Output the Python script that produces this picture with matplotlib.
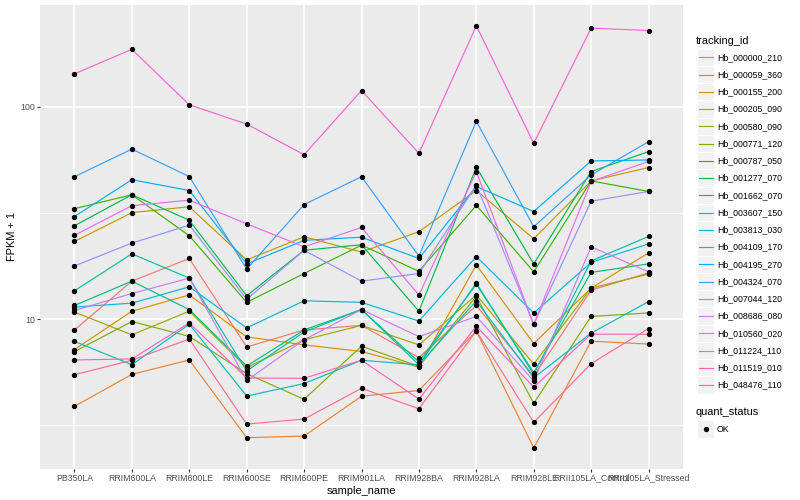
import matplotlib
matplotlib.use("Agg")
import matplotlib.pyplot as plt
from matplotlib.patches import Rectangle
from matplotlib.lines import Line2D
from matplotlib.ticker import FixedLocator, FixedFormatter, NullFormatter

plt.rcParams['font.family'] = ['Liberation Sans', 'DejaVu Sans']

# sample names on the x axis
samples = ['PB350LA', 'RRIM600LA', 'RRIM600LE', 'RRIM600SE', 'RRIM600PE',
           'RRIM901LA', 'RRIM928BA', 'RRIM928LA', 'RRIM928LE',
           'RRII105LA_Control', 'RRII105LA_Stressed']

tracking_ids = ['Hb_000000_210', 'Hb_000059_360', 'Hb_000155_200', 'Hb_000205_090',
                'Hb_000580_090', 'Hb_000771_120', 'Hb_000787_050', 'Hb_001277_070',
                'Hb_001662_070', 'Hb_003607_150', 'Hb_003813_030', 'Hb_004109_170',
                'Hb_004195_270', 'Hb_004324_070', 'Hb_007044_120', 'Hb_008686_080',
                'Hb_010560_020', 'Hb_011224_110', 'Hb_011519_010', 'Hb_048476_110']

# FPKM + 1 per gene, in the order of samples
hb_000000_210 = [8.9, 15.1, 19.3, 7.4, 8.9, 9.35, 6.6, 11.6, 5.4, 13.7, 16.5]
hb_000059_360 = [3.89, 5.5, 6.43, 2.77, 2.82, 4.34, 4.62, 8.8, 2.48, 7.88, 7.64]
hb_000155_200 = [7.2, 10.9, 13.0, 8.26, 7.57, 7.05, 5.95, 18.0, 7.68, 14.0, 20.5]
hb_000205_090 = [23.2, 31.7, 33.8, 19.0, 24.4, 20.7, 25.8, 40.3, 23.9, 44.7, 51.7]
hb_000580_090 = [10.8, 8.44, 10.9, 5.92, 8.0, 9.35, 7.57, 13.0, 6.15, 14.0, 16.3]
hb_000771_120 = [7.04, 9.75, 8.3, 5.54, 4.2, 7.46, 6.0, 12.8, 4.02, 10.3, 10.7]
hb_000787_050 = [33.1, 38.5, 24.7, 12.0, 16.4, 22.3, 16.8, 34.3, 16.7, 44.7, 39.9]
hb_001277_070 = [27.5, 38.5, 29.2, 12.9, 21.1, 22.4, 10.9, 51.8, 18.2, 49.5, 61.4]
hb_001662_070 = [11.6, 15.1, 11.1, 6.02, 8.9, 11.1, 6.3, 14.6, 5.6, 16.6, 18.2]
hb_003607_150 = [13.6, 20.3, 15.6, 5.71, 8.7, 11.1, 6.1, 14.8, 5.5, 18.8, 24.5]
hb_003813_030 = [7.86, 6.11, 9.47, 4.35, 4.98, 6.41, 6.1, 12.2, 5.3, 8.6, 12.1]
hb_004109_170 = [11.4, 11.9, 14.2, 9.1, 12.2, 12.0, 9.8, 19.7, 10.7, 18.5, 22.6]
hb_004195_270 = [30.4, 45.3, 40.3, 18.2, 23.5, 24.3, 19.3, 42.1, 32.1, 55.5, 56.1]
hb_004324_070 = [46.8, 63.1, 46.9, 17.2, 34.6, 46.8, 19.8, 85.3, 27.2, 47.7, 68.4]
hb_007044_120 = [17.8, 22.8, 27.7, 12.4, 21.1, 15.1, 16.4, 42.8, 9.45, 35.9, 39.9]
hb_008686_080 = [11.0, 13.2, 15.6, 5.15, 8.0, 11.1, 8.28, 10.3, 5.12, 21.9, 16.7]
hb_010560_020 = [24.8, 34.2, 36.3, 28.1, 21.9, 27.0, 13.0, 49.5, 9.45, 44.5, 55.2]
hb_011224_110 = [142.6, 186, 102, 82.8, 59.4, 119, 60.3, 240, 67.2, 234, 228]
hb_011519_010 = [6.43, 6.5, 9.6, 5.29, 5.27, 6.41, 4.21, 9.27, 4.79, 8.5, 8.5]
hb_048476_110 = [5.48, 6.41, 8.07, 3.21, 3.39, 4.73, 3.79, 8.8, 3.27, 6.18, 9.04]

series = [hb_000000_210, hb_000059_360, hb_000155_200, hb_000205_090, hb_000580_090,
          hb_000771_120, hb_000787_050, hb_001277_070, hb_001662_070, hb_003607_150,
          hb_003813_030, hb_004109_170, hb_004195_270, hb_004324_070, hb_007044_120,
          hb_008686_080, hb_010560_020, hb_011224_110, hb_011519_010, hb_048476_110]

# ggplot default hue palette for 20 groups
colors = ['#F8766D', '#EA8331', '#D89000', '#C09B00', '#A3A500', '#7CAE00', '#39B600',
          '#00BB4E', '#00BF7D', '#00C1A3', '#00BFC4', '#00BAE0', '#00B0F6', '#35A2FF',
          '#9590FF', '#C77CFF', '#E76BF3', '#FA62DB', '#FF62BC', '#FF6C91']

W, H = 800, 500
fig = plt.figure(figsize=(8, 5), dpi=100)
ax = fig.add_axes([40 / W, 1 - 468.7 / H, (683 - 40) / W, (468.7 - 5) / H])
ax.set_facecolor('#EBEBEB')
for s in ax.spines.values():
    s.set_visible(False)

x = list(range(len(samples)))
for vals, c in zip(series, colors):
    ax.plot(x, vals, color=c, lw=0.85, zorder=3)
for vals in series:
    ax.plot(x, vals, 'o', color='black', ms=2.8, zorder=4)

ax.set_yscale('log')
ax.set_ylim(1.98, 300.6)
ax.set_xlim(-0.6, len(samples) - 0.4)

ax.yaxis.set_major_locator(FixedLocator([10, 100]))
ax.yaxis.set_major_formatter(FixedFormatter(['10', '100']))
ax.yaxis.set_minor_locator(FixedLocator([10 ** 0.5, 10 ** 1.5, 10 ** 2.5]))
ax.yaxis.set_minor_formatter(NullFormatter())
ax.set_xticks(x)
ax.set_xticklabels(samples)

ax.grid(True, which='major', color='white', lw=1.2, zorder=0)
ax.grid(True, which='minor', axis='y', color='white', lw=0.6, zorder=0)
ax.set_axisbelow(True)
ax.tick_params(which='major', length=2.0, width=0.8, color='#333333',
               labelsize=6.3, labelcolor='#4D4D4D', pad=1.6)
ax.tick_params(which='minor', length=0)

ax.set_xlabel('sample_name', fontsize=7.9, labelpad=2.5)
ax.set_ylabel('FPKM + 1', fontsize=7.9, labelpad=2.5)

# legend drawn by hand, ggplot style
def fx(px):
    return px / W

def fy(py):
    return 1 - py / H

fig.text(fx(696), fy(40.7), 'tracking_id', fontsize=7.9, va='center', ha='left')
key_w, key_h = 17.3, 17.3
y0, step = 57.3, 17.25
for i, (name, c) in enumerate(zip(tracking_ids, colors)):
    yc = y0 + i * step
    fig.add_artist(Rectangle((fx(697), fy(yc + key_h / 2)), key_w / W, key_h / H,
                             transform=fig.transFigure, facecolor='#F2F2F2',
                             edgecolor='white', lw=0.7))
    fig.add_artist(Line2D([fx(699), fx(712.5)], [fy(yc), fy(yc)],
                          transform=fig.transFigure, color=c, lw=0.85))
    fig.text(fx(717), fy(yc), name, fontsize=6.3, va='center', ha='left')

fig.text(fx(696), fy(412.3), 'quant_status', fontsize=7.9, va='center', ha='left')
fig.add_artist(Rectangle((fx(697), fy(429 + key_h / 2)), key_w / W, key_h / H,
                         transform=fig.transFigure, facecolor='#F2F2F2',
                         edgecolor='white', lw=0.7))
fig.add_artist(Line2D([fx(705.6)], [fy(429)], transform=fig.transFigure,
                      marker='o', color='black', ms=2.8, lw=0))
fig.text(fx(717), fy(429), 'OK', fontsize=6.3, va='center', ha='left')

fig.savefig('out.png', dpi=100)
